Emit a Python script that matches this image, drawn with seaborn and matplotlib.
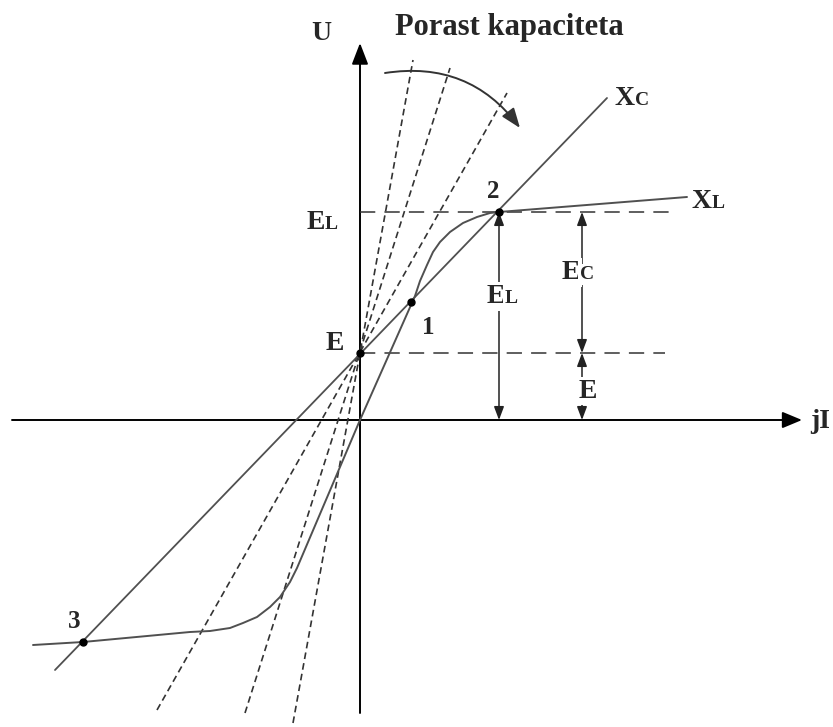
import matplotlib
matplotlib.use("Agg")
import matplotlib.pyplot as plt
import seaborn as sns
from matplotlib.patches import FancyArrowPatch

# coordinates: current jI to the right, voltage U up, origin where the axes cross
xl_i = [-327, -277, -170, -150, -130, -117, -103, -90, -80, -70, -63, 0,
        55, 60, 67, 73, 80, 90, 103, 117, 130, 139, 327]
xl_u = [-225, -222, -212, -211, -208, -203, -197, -187, -177, -162, -148, 0,
        124, 139, 155, 168, 178, 188, 197, 203, 207, 208, 223]

xc_i = [-305, 247]
xc_u = [-250, 322]

# capacitive lines for growing capacitance, all through point E
fan_i = [[-203, 147], [-115, 90], [-67, 53]]
fan_u = [[-290, 327], [-293, 352], [-303, 360]]

e_level = 67
el_level = 208
points = {"1": (51, 118), "2": (139, 208), "3": (-277, -222), "E": (0, 67)}

sns.set_theme(style="white")
plt.rcParams["font.family"] = ["Liberation Serif", "DejaVu Serif"]
plt.rcParams["font.weight"] = "bold"

fig = plt.figure(figsize=(8.33, 7.27), dpi=100)
ax = fig.add_axes([0, 0, 1, 1])
ax.set_xlim(-360, 473)
ax.set_ylim(-307, 420)
ax.axis("off")

curve_col = "#505050"

# axes with arrows
ax.add_patch(FancyArrowPatch((-348, 0), (442, 0), arrowstyle="-|>,head_length=1.2,head_width=0.5",
                             mutation_scale=10, color="black", lw=1.4, shrinkA=0, shrinkB=0))
ax.add_patch(FancyArrowPatch((0, -293), (0, 377), arrowstyle="-|>,head_length=1.3,head_width=0.5",
                             mutation_scale=10, color="black", lw=1.4, shrinkA=0, shrinkB=0))

# dashed fan
for fi, fu in zip(fan_i, fan_u):
    ax.plot(fi, fu, color="#333333", lw=1.2, linestyle=(0, (4, 2.5)))

# horizontal dashed levels
ax.plot([0, 312], [el_level, el_level], color="#333333", lw=1.1, linestyle=(0, (10, 6)))
ax.plot([0, 305], [e_level, e_level], color="#333333", lw=1.1, linestyle=(0, (10, 6)))

# XL and XC characteristics
sns.lineplot(x=xl_i, y=xl_u, sort=False, estimator=None, ax=ax, color=curve_col, lw=1.4)
sns.lineplot(x=xc_i, y=xc_u, sort=False, estimator=None, ax=ax, color=curve_col, lw=1.3)

for k, (pi, pu) in points.items():
    ax.plot(pi, pu, "o", color="black", ms=5)

# curved arrow "Porast kapaciteta"
ax.add_patch(FancyArrowPatch((25, 347), (160, 292), connectionstyle="arc3,rad=-0.3",
                             arrowstyle="-|>,head_length=1.2,head_width=0.45", mutation_scale=10,
                             color="#333333", lw=1.4, shrinkA=0, shrinkB=0))

# double arrows for EL, EC, E
dbl = "<|-|>,head_length=0.8,head_width=0.3"
for x0, y0, y1 in [(139, 0, el_level), (222, e_level, el_level), (222, 0, e_level)]:
    ax.add_patch(FancyArrowPatch((x0, y0), (x0, y1), arrowstyle=dbl, mutation_scale=10,
                                 color="#222222", lw=1.1, shrinkA=0, shrinkB=0))

fs = 20
fs_small = 14
bg = dict(fc="white", ec="none", pad=1.5)


def two_part(x, y, big, small, box=False):
    kw = dict(bbox=bg) if box else {}
    ax.text(x, y, big, ha="right", va="baseline", fontsize=fs, fontweight="bold", **kw)
    ax.text(x, y, small, ha="left", va="baseline", fontsize=fs_small, fontweight="bold", **kw)


two_part(-35, 191, "E", "L")
two_part(145, 117, "E", "L", box=True)
two_part(220, 141, "E", "C", box=True)
two_part(275, 315, "X", "C")
two_part(352, 212, "X", "L")

ax.text(228, 29, "E", ha="center", va="center", fontsize=fs, fontweight="bold", bbox=bg)
ax.text(-25, 77, "E", ha="center", va="center", fontsize=fs, fontweight="bold")
ax.text(68, 92, "1", ha="center", va="center", fontsize=18, fontweight="bold")
ax.text(133, 228, "2", ha="center", va="center", fontsize=18, fontweight="bold")
ax.text(-286, -202, "3", ha="center", va="center", fontsize=18, fontweight="bold")
ax.text(-39, 386, "U", ha="center", va="center", fontsize=fs, fontweight="bold")
ax.text(460, -2, "jI", ha="center", va="center", fontsize=fs, fontweight="bold")
ax.text(35, 385, "Porast kapaciteta", ha="left", va="baseline", fontsize=22, fontweight="bold")

fig.savefig("out.png", dpi=100, facecolor="white")
